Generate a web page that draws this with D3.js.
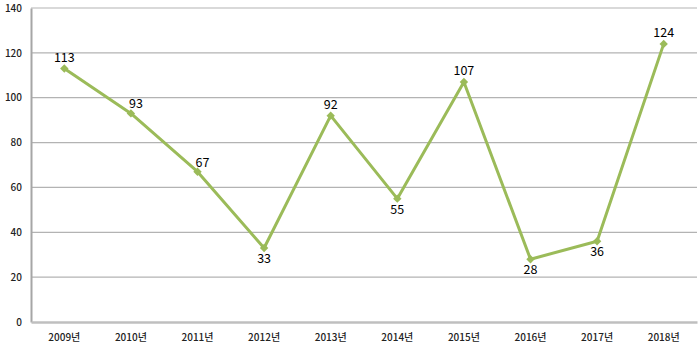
<!DOCTYPE html>
<html>
<head>
<meta charset="utf-8">
<script src="https://cdn.jsdelivr.net/npm/d3@7"></script>
<style>
body { margin: 0; background: #fff; }
text { font-family: "Noto Sans CJK KR", "Noto Sans", sans-serif; }
</style>
</head>
<body>
<script>
const years = ['2009년','2010년','2011년','2012년','2013년','2014년','2015년','2016년','2017년','2018년'];
const values = [113, 93, 67, 33, 92, 55, 107, 28, 36, 124];
const yTicks = [0, 20, 40, 60, 80, 100, 120, 140];

const w = 699, h = 353;
const m = {top: 8, right: 2, bottom: 31, left: 31};

// where each value label sits relative to its point
const labelSide = ['up','upRight','upRight','down','up','down','up','down','down','up'];

const x = d3.scaleBand().domain(years).range([m.left, w - m.right]);
const y = d3.scaleLinear().domain([0, 140]).range([h - m.bottom, m.top]);

const svg = d3.select('body').append('svg')
    .attr('width', w)
    .attr('height', h);

// gridlines
svg.append('g')
    .selectAll('line')
    .data(yTicks.filter(d => d > 0))
    .enter().append('line')
    .attr('x1', m.left).attr('x2', w - m.right)
    .attr('y1', d => y(d)).attr('y2', d => y(d))
    .attr('stroke', '#b3b3b3')
    .attr('stroke-width', 1.2);

const yAxis = svg.append('g')
    .attr('transform', `translate(${m.left},0)`)
    .call(d3.axisLeft(y).tickValues(yTicks).tickSize(0).tickPadding(9));
yAxis.select('.domain').attr('stroke', '#a6a6a6').attr('stroke-width', 2);
yAxis.selectAll('text').attr('font-size', 10).attr('font-weight', 500).attr('fill', '#222');

const xAxis = svg.append('g')
    .attr('transform', `translate(0,${h - m.bottom})`)
    .call(d3.axisBottom(x).tickSize(0).tickPadding(12));
xAxis.select('.domain').attr('stroke', '#bfbfbf').attr('stroke-width', 2.5);
xAxis.selectAll('text').attr('font-size', 10).attr('font-weight', 500).attr('fill', '#222');

const cx = (d, i) => x(years[i]) + x.bandwidth() / 2;

const line = d3.line()
    .x((d, i) => cx(d, i))
    .y(d => y(d));

svg.append('path')
    .datum(values)
    .attr('d', line)
    .attr('fill', 'none')
    .attr('stroke', '#9bbb59')
    .attr('stroke-width', 3)
    .attr('stroke-linejoin', 'round');

svg.selectAll('.mark')
    .data(values)
    .enter().append('path')
    .attr('class', 'mark')
    .attr('d', d3.symbol(d3.symbolDiamond2, 45))
    .attr('transform', (d, i) => `translate(${cx(d, i)},${y(d)})`)
    .attr('fill', '#9bbb59');

svg.selectAll('.lbl')
    .data(values)
    .enter().append('text')
    .attr('class', 'lbl')
    .attr('text-anchor', 'middle')
    .attr('font-size', 12.5)
    .attr('fill', '#000')
    .attr('x', (d, i) => cx(d, i) + (labelSide[i] === 'upRight' ? 5 : 0))
    .attr('y', (d, i) => {
        const s = labelSide[i];
        if (s === 'down') return y(d) + 15;
        if (s === 'upRight') return y(d) - 5;
        return y(d) - 7;
    })
    .text(d => d);
</script>
</body>
</html>
